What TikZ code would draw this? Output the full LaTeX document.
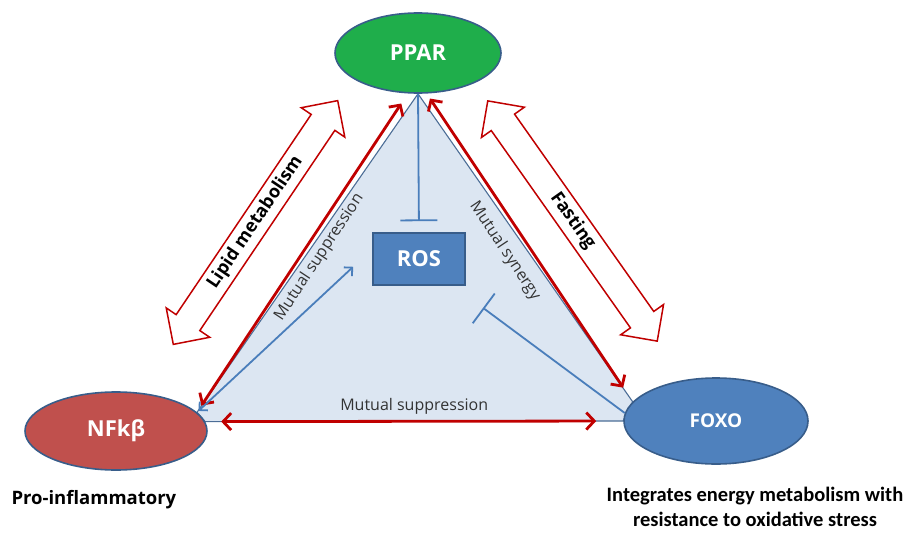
\documentclass[tikz,border=0pt]{standalone}
\usepackage{fontspec}
\setmainfont{Open Sans}
\newfontfamily\notefont{Carlito}
\usetikzlibrary{arrows.meta, shapes.geometric, shapes.arrows, backgrounds}
\definecolor{PparGreen}{HTML}{1FAE4B}
\definecolor{NfkbRed}{HTML}{C0504D}
\definecolor{FoxoBlue}{HTML}{4F81BD}
\definecolor{EdgeBlue}{HTML}{385D8A}
\definecolor{TriFill}{HTML}{DCE6F2}
\definecolor{ArrowRed}{HTML}{C00000}
\definecolor{LineBlue}{HTML}{4A7EBB}
\tikzset{
  hub/.style={ellipse, draw=EdgeBlue, line width=1.6pt, text=white, inner sep=0pt,
    font=\fontsize{22}{26}\selectfont\bfseries},
  rosbox/.style={rectangle, draw=EdgeBlue, line width=1.6pt, fill=FoxoBlue, text=white,
    minimum width=92pt, minimum height=52pt, font=\fontsize{22}{26}\selectfont\bfseries},
  tri/.style={fill=TriFill, draw=EdgeBlue!90, line width=1.1pt},
  redarr/.style={{Straight Barb[length=8pt,width=17pt]}-{Straight Barb[length=8pt,width=17pt]},
    line width=2.8pt, draw=ArrowRed},
  bluearr/.style={{Straight Barb[length=6pt,width=12pt]}-{Straight Barb[length=6pt,width=12pt]},
    line width=1.8pt, draw=LineBlue},
  inhib/.style={-{Bar[width=37pt]}, line width=1.8pt, draw=LineBlue},
  bigarrow/.style={double arrow, double arrow head extend=12pt, draw=ArrowRed, fill=white,
    line width=1.5pt, minimum height=294pt, inner ysep=5pt, text height=13pt, text depth=4pt,
    font=\fontsize{18}{22}\selectfont\bfseries},
  mutual/.style={font=\fontsize{16}{19}\selectfont, text=black!80, inner sep=2pt},
  note/.style={font=\fontsize{18.5}{22}\selectfont\bfseries, align=center},
}
\begin{document}
\begin{tikzpicture}[x=1pt, y=-1pt]
  \useasboundingbox (0,0) rectangle (919,538);
  % the three hubs and ROS
  \node[hub, fill=PparGreen, minimum width=166pt, minimum height=80pt] (ppar) at (418,53) {PPAR};
  \node[hub, fill=NfkbRed, minimum width=182pt, minimum height=78pt] (nfkb) at (116,431) {NFkβ};
  \node[hub, fill=FoxoBlue, minimum width=184pt, minimum height=86pt,
    font=\fontsize{19}{23}\selectfont\bfseries] (foxo) at (716,421) {FOXO};
  \node[rosbox] (ros) at (419,259) {ROS};
  % shaded triangle
  \begin{scope}[on background layer]
    \draw[tri] (ppar.south) -- (nfkb.13) -- (nfkb.6.5) -- (foxo.west) -- (foxo.167) -- cycle;
  \end{scope}
  % red connectors
  \draw[redarr, shorten <=8pt, shorten >=12pt] (nfkb.13)
    -- node[mutual, sloped, below=5pt, pos=0.515] {Mutual suppression} (ppar.256);
  \draw[redarr, shorten <=6pt, shorten >=17pt] (ppar.282)
    -- node[mutual, sloped, below=11pt, pos=0.47] {Mutual synergy} (foxo.167);
  \draw[redarr, shorten <=16pt, shorten >=27pt] (nfkb.6.5)
    -- node[mutual, above=4pt] {Mutual suppression} (foxo.west);
  % blue connectors
  \draw[bluearr, shorten <=2pt, shorten >=26pt] (nfkb.13) -- (ros.168);
  \draw[inhib, shorten >=11pt] (ppar.south) -- (ros.north);
  \draw[inhib, shorten >=37pt] (foxo.175) -- (ros.322.6);
  % outer hollow arrows
  \node[bigarrow, rotate=56] (lipid) at (255.5,222.5) {Lipid metabolism};
  \node[bigarrow, rotate=-54.8] (fasting) at (572.5,221) {Fasting};
  % captions
  \node[note, anchor=west] (proinf) at (8,500) {Pro-inflammatory};
  \node[note, font=\notefont\fontsize{20.5}{25}\selectfont\bfseries] (integ) at (755,507)
    {Integrates energy metabolism with\\resistance to oxidative stress};
\end{tikzpicture}
\end{document}
